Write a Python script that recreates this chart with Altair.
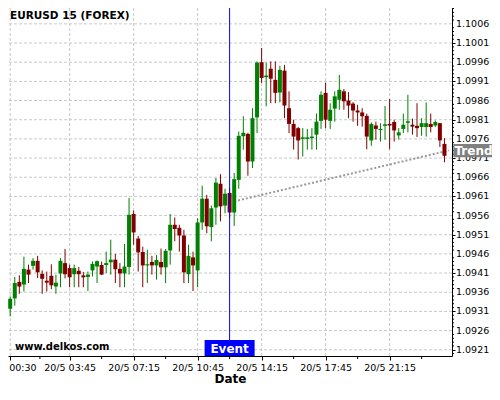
import altair as alt
import pandas as pd

# ---- data (EURUSD 15-min candles, 20/5 00:30 .. 21/5 00:15)
opens = [1.09317,1.09344,1.09387,1.09380,1.09419,1.09429,1.09442,1.09408,1.09390,1.09403,
         1.09375,1.09409,1.09436,1.09423,1.09407,1.09416,1.09404,1.09400,1.09417,1.09427,
         1.09431,1.09431,1.09438,1.09445,1.09421,1.09409,1.09426,1.09564,1.09500,1.09465,
         1.09430,1.09439,1.09430,1.09439,1.09425,1.09469,1.09536,1.09528,1.09508,1.09407,
         1.09451,1.09417,1.09542,1.09604,1.09530,1.09581,1.09643,1.09586,1.09619,1.09568,
         1.09653,1.09767,1.09773,1.09701,1.09816,1.09960,1.09921,1.09943,1.09914,1.09881,
         1.09938,1.09840,1.09799,1.09788,1.09760,1.09760,1.09762,1.09771,1.09807,1.09880,
         1.09807,1.09839,1.09862,1.09884,1.09860,1.09852,1.09834,1.09829,1.09820,1.09756,
         1.09795,1.09783,1.09794,1.09799,1.09804,1.09769,1.09786,1.09802,1.09797,1.09794,
         1.09791,1.09791,1.09799,1.09795,1.09801,1.09747]
highs = [1.09349,1.09400,1.09404,1.09453,1.09432,1.09449,1.09455,1.09417,1.09414,1.09433,
         1.09406,1.09449,1.09473,1.09432,1.09432,1.09426,1.09413,1.09414,1.09440,1.09443,
         1.09440,1.09466,1.09497,1.09460,1.09436,1.09486,1.09606,1.09573,1.09507,1.09479,
         1.09471,1.09455,1.09457,1.09474,1.09473,1.09564,1.09555,1.09536,1.09523,1.09484,
         1.09466,1.09553,1.09638,1.09614,1.09586,1.09658,1.09668,1.09630,1.09632,1.09671,
         1.09779,1.09819,1.09776,1.09840,1.09962,1.09997,1.09959,1.09962,1.09962,1.09951,
         1.09953,1.09884,1.09810,1.09791,1.09788,1.09786,1.09788,1.09826,1.09884,1.09907,
         1.09853,1.09884,1.09927,1.09890,1.09882,1.09856,1.09849,1.09840,1.09826,1.09803,
         1.09805,1.09801,1.09846,1.09864,1.09810,1.09788,1.09826,1.09875,1.09813,1.09853,
         1.09814,1.09855,1.09826,1.09808,1.09801,1.09762]
lows = [1.09297,1.09325,1.09356,1.09362,1.09384,1.09419,1.09397,1.09356,1.09362,1.09368,
        1.09356,1.09373,1.09396,1.09373,1.09373,1.09373,1.09373,1.09363,1.09401,1.09384,
        1.09405,1.09410,1.09406,1.09384,1.09373,1.09373,1.09406,1.09484,1.09414,1.09373,
        1.09384,1.09406,1.09393,1.09406,1.09384,1.09432,1.09493,1.09466,1.09384,1.09384,
        1.09363,1.09373,1.09523,1.09514,1.09493,1.09536,1.09545,1.09566,1.09553,1.09533,
        1.09630,1.09732,1.09664,1.09684,1.09775,1.09906,1.09845,1.09853,1.09853,1.09855,
        1.09814,1.09775,1.09732,1.09706,1.09714,1.09732,1.09732,1.09732,1.09786,1.09788,
        1.09786,1.09805,1.09836,1.09836,1.09814,1.09805,1.09794,1.09792,1.09733,1.09742,
        1.09758,1.09753,1.09758,1.09733,1.09753,1.09758,1.09775,1.09777,1.09771,1.09765,
        1.09768,1.09766,1.09777,1.09791,1.09739,1.09699]
closes = [1.09343,1.09384,1.09375,1.09421,1.09406,1.09442,1.09412,1.09395,1.09385,1.09378,
          1.09385,1.09442,1.09407,1.09399,1.09423,1.09407,1.09399,1.09406,1.09434,1.09441,
          1.09406,1.09436,1.09445,1.09420,1.09409,1.09427,1.09562,1.09516,1.09464,1.09430,
          1.09433,1.09430,1.09444,1.09425,1.09468,1.09536,1.09525,1.09508,1.09412,1.09455,
          1.09430,1.09542,1.09604,1.09532,1.09579,1.09646,1.09584,1.09617,1.09568,1.09655,
          1.09768,1.09776,1.09701,1.09814,1.09959,1.09919,1.09925,1.09917,1.09880,1.09940,
          1.09847,1.09799,1.09766,1.09756,1.09764,1.09764,1.09766,1.09805,1.09875,1.09810,
          1.09836,1.09871,1.09888,1.09858,1.09847,1.09834,1.09829,1.09819,1.09766,1.09799,
          1.09786,1.09786,1.09798,1.09795,1.09782,1.09777,1.09797,1.09806,1.09792,1.09788,
          1.09801,1.09801,1.09791,1.09804,1.09756,1.09716]

start_time = "2015-05-20 00:30"
bar_minutes = 15
x_tick_labels = ["00:30", "03:45", "07:15", "10:45", "14:15", "17:45", "21:15"]
x_minor_labels = ["02:07:30", "05:30", "09:00", "12:30", "16:00", "19:30", "23:00"]
event_time = "12:30"
trend_times = ["2015-05-20 12:45", "2015-05-21 00:30"]
trend_prices = [1.09597, 1.09730]
y_major = [round(1.0921 + 0.0005 * k, 4) for k in range(18)]  # 1.0921 .. 1.1006
y_minor = [v for v in (round(1.0920 + 0.0001 * k, 4) for k in range(91)) if v not in y_major]

# ---- helpers
def ms(ts):
    return int(pd.Timestamp(ts, tz="UTC").value // 10**6)

base = ms(start_time)
step = bar_minutes * 60 * 1000
t_ms = [base + i * step for i in range(len(opens))]
major_x = [ms("2015-05-20 " + s) for s in x_tick_labels]
minor_x = [ms("2015-05-20 " + s) for s in x_minor_labels]

df = pd.DataFrame({"t": t_ms, "open": opens, "high": highs, "low": lows, "close": closes})
trend_df = pd.DataFrame({"t": [ms(s) for s in trend_times], "p": trend_prices})
event_df = pd.DataFrame({"t": [ms("2015-05-20 " + event_time)], "label": ["Event"]})
xmaj_df = pd.DataFrame({"t": major_x})
xmin_df = pd.DataFrame({"t": minor_x})
ymaj_df = pd.DataFrame({"v": y_major, "txt": [f"{v:.4f}" for v in y_major]})
ymin_df = pd.DataFrame({"v": y_minor})

FONT = "DejaVu Sans"
GRID = "#c8c8c8"
W, H = 444, 348

x_scale = alt.Scale(type="utc", domain=[base - 0.481 * step, base + 96.65 * step], nice=False, padding=0)
y_scale = alt.Scale(domain=[1.091937, 1.101014], zero=False, nice=False, padding=0)

x_axis = alt.Axis(
    values=major_x, format="%-d/%-m %H:%M",
    grid=False, tickSize=4, tickColor="#000", domainColor="#000", domainWidth=1,
    labelFont=FONT, labelFontSize=9.5, labelColor="#000", labelPadding=2,
    labelOverlap=False, labelFlush=False, labelBound=False,
    title="Date", titleFont=FONT, titleFontSize=12, titleFontWeight="bold",
    titleColor="#000", titleBaseline="alphabetic", titleY=26,
)
y_axis = alt.Axis(
    orient="right", values=y_major, labels=False,
    grid=False, tickSize=3, tickColor="#000", domainColor="#000", domainWidth=1, title=None,
)

# grid lines, minor ticks and y labels drawn from the tick-value lists
vgrid = alt.Chart(xmaj_df).mark_rule(color=GRID, strokeDash=[3, 2], strokeWidth=1).encode(
    x=alt.X("t:T", scale=x_scale, axis=x_axis),
)
hgrid = alt.Chart(ymaj_df).mark_rule(color=GRID, strokeDash=[3, 2], strokeWidth=1).encode(
    y=alt.Y("v:Q", scale=y_scale, axis=y_axis),
)
xminor = alt.Chart(xmin_df).mark_rule(color="#000", strokeWidth=1).encode(
    x="t:T", y=alt.value(H), y2=alt.value(H + 3),
)
yminor = alt.Chart(ymin_df).mark_rule(color="#000", strokeWidth=1).encode(
    y="v:Q", x=alt.value(W), x2=alt.value(W + 2),
)
ylabels = alt.Chart(ymaj_df).mark_text(
    font=FONT, fontSize=9.5, color="#000", align="left", baseline="middle",
).encode(y="v:Q", x=alt.value(W + 4), text="txt:N")

candle_color = alt.condition("datum.close >= datum.open", alt.value("#008000"), alt.value("#800000"))

wicks = alt.Chart(df).mark_rule(strokeWidth=1).encode(
    x="t:T", y="low:Q", y2="high:Q", color=candle_color,
)
bodies = alt.Chart(df).mark_bar(width=4).encode(
    x="t:T", y="open:Q", y2="close:Q", color=candle_color,
)
trend = alt.Chart(trend_df).mark_line(strokeDash=[2, 2], strokeWidth=2, color="#9a9a9a").encode(
    x="t:T", y="p:Q",
)
event_rule = alt.Chart(event_df).mark_rule(color="#0000ff", strokeWidth=1).encode(x="t:T")
event_box = alt.Chart(event_df).mark_bar(width=50, color="#0000ff", orient="vertical").encode(
    x="t:T", y=alt.value(H - 16), y2=alt.value(H),
)
event_text = alt.Chart(event_df).mark_text(
    font=FONT, fontSize=12, fontWeight="bold", color="white", baseline="alphabetic", align="center",
).encode(x="t:T", y=alt.value(H - 3.5), text="label:N")

trend_lbl_df = pd.DataFrame({"label": ["Trend"]})
trend_box = alt.Chart(trend_lbl_df).mark_rect(color="#808080").encode(
    x=alt.value(445.3), x2=alt.value(484), y=alt.value(136), y2=alt.value(149.3),
)
trend_text = alt.Chart(trend_lbl_df).mark_text(
    font=FONT, fontSize=12, fontWeight="bold", color="white", baseline="alphabetic", align="left",
).encode(x=alt.value(446.5), y=alt.value(147), text="label:N")

title_text = alt.Chart(pd.DataFrame({"label": ["EURUSD 15 (FOREX)"]})).mark_text(
    font=FONT, fontSize=10.5, fontWeight="bold", color="#000", baseline="alphabetic", align="left",
).encode(x=alt.value(2), y=alt.value(11.3), text="label:N")
site_text = alt.Chart(pd.DataFrame({"label": ["www.delkos.com"]})).mark_text(
    font=FONT, fontSize=10, fontWeight="bold", color="#000", baseline="alphabetic", align="left",
).encode(x=alt.value(7), y=alt.value(H - 6.5), text="label:N")

chart = alt.layer(
    vgrid, hgrid, xminor, yminor, ylabels, trend, wicks, bodies, event_rule, event_box, event_text,
    trend_box, trend_text, title_text, site_text,
).properties(
    width=W, height=H,
    autosize=alt.AutoSizeParams(type="none"),
    padding={"left": 0, "top": 0, "right": 40, "bottom": 30},
    background="white",
).configure_view(stroke=None)

chart.save("out.html", embed_options={"renderer": "svg", "actions": False})
